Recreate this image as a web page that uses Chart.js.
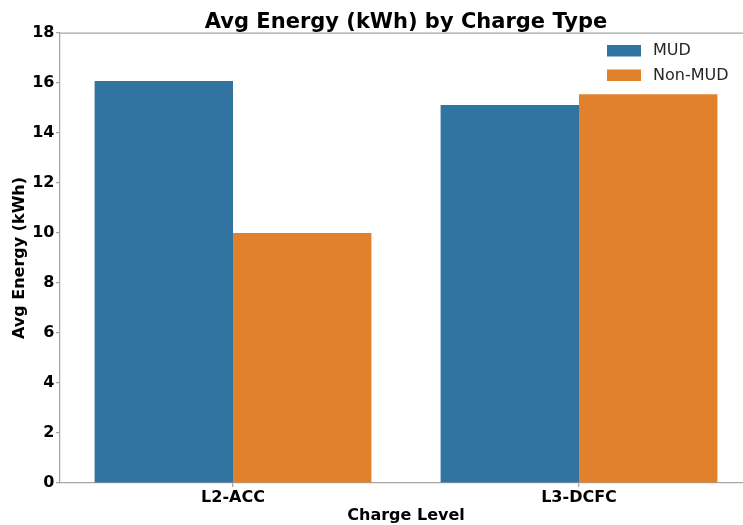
<!DOCTYPE html>
<html>
<head>
<meta charset="utf-8">
<script src="https://cdn.jsdelivr.net/npm/chart.js@4"></script>
<style>
html,body{margin:0;padding:0;background:#fff;overflow:hidden;}
#wrap{width:752px;height:525px;}
</style>
</head>
<body>
<div id="wrap"><canvas id="c" width="752" height="525"></canvas></div>
<script>
const categories = ['L2-ACC', 'L3-DCFC'];
const seriesNames = ['MUD', 'Non-MUD'];
const mudValues = [16.08, 15.12];
const nonMudValues = [10.0, 15.55];
const yTicks = [0, 2, 4, 6, 8, 10, 12, 14, 16, 18];
const titleText = 'Avg Energy (kWh) by Charge Type';
const xTitle = 'Charge Level';
const yTitle = 'Avg Energy (kWh)';

const FONT = "'DejaVu Sans', sans-serif";
const SPINE = '#a6a6a6';
const colors = ['#3274a1', '#e1812c'];

const extras = {
  id: 'extras',
  afterDraw(chart) {
    const ctx = chart.ctx;
    const a = chart.chartArea;
    ctx.save();
    // top spine
    ctx.strokeStyle = SPINE;
    ctx.lineWidth = 1.25;
    ctx.beginPath();
    ctx.moveTo(a.left, a.top);
    ctx.lineTo(a.right, a.top);
    ctx.stroke();
    // title
    ctx.fillStyle = '#000';
    ctx.font = 'bold 21px ' + FONT;
    ctx.textAlign = 'center';
    ctx.textBaseline = 'alphabetic';
    ctx.fillText(titleText, (a.left + a.right) / 2, a.top - 5.5);
    // legend
    ctx.font = '16px ' + FONT;
    ctx.textAlign = 'left';
    ctx.textBaseline = 'middle';
    chart.data.datasets.forEach((ds, i) => {
      const bx = a.right - 145;
      const by = a.top + 12 + i * 24.5;
      ctx.fillStyle = ds.backgroundColor;
      ctx.fillRect(bx, by, 34, 11.5);
      ctx.fillStyle = '#262626';
      ctx.fillText(ds.label, bx + 46, by + 6);
    });
    ctx.restore();
  }
};

new Chart(document.getElementById('c'), {
  type: 'bar',
  data: {
    labels: categories,
    datasets: [
      { label: seriesNames[0], data: mudValues, backgroundColor: colors[0], borderWidth: 0 },
      { label: seriesNames[1], data: nonMudValues, backgroundColor: colors[1], borderWidth: 0 }
    ]
  },
  options: {
    responsive: false,
    animation: false,
    devicePixelRatio: 1,
    layout: { padding: { top: 33, left: 0, right: 0, bottom: 0 } },
    datasets: { bar: { categoryPercentage: 0.8, barPercentage: 1.0 } },
    plugins: {
      legend: { display: false },
      title: { display: false },
      tooltip: { enabled: false }
    },
    scales: {
      x: {
        offset: true,
        grid: { display: true, offset: false, drawOnChartArea: false, drawTicks: true, tickLength: 4, color: SPINE, lineWidth: 1.25 },
        border: { display: true, color: SPINE, width: 1.25 },
        ticks: { color: '#000', font: { family: FONT, size: 16, weight: 'bold' }, padding: 1 },
        title: { display: true, text: xTitle, color: '#000', font: { family: FONT, size: 16, weight: 'bold' }, padding: { top: 0, bottom: 0 } },
        afterFit(s) { s.height = 42; }
      },
      y: {
        min: 0,
        max: 18,
        afterBuildTicks(s) { s.ticks = yTicks.map(v => ({ value: v })); },
        grid: { display: true, drawOnChartArea: false, drawTicks: true, tickLength: 4, color: SPINE, lineWidth: 1.25 },
        border: { display: true, color: SPINE, width: 1.25 },
        ticks: { color: '#000', font: { family: FONT, size: 16, weight: 'bold' }, padding: 1.5 },
        title: { display: true, text: yTitle, color: '#000', font: { family: FONT, size: 16, weight: 'bold' }, padding: { top: 10, bottom: 0 } },
        afterFit(s) { s.width = 60; }
      }
    }
  },
  plugins: [extras]
});
</script>
</body>
</html>
